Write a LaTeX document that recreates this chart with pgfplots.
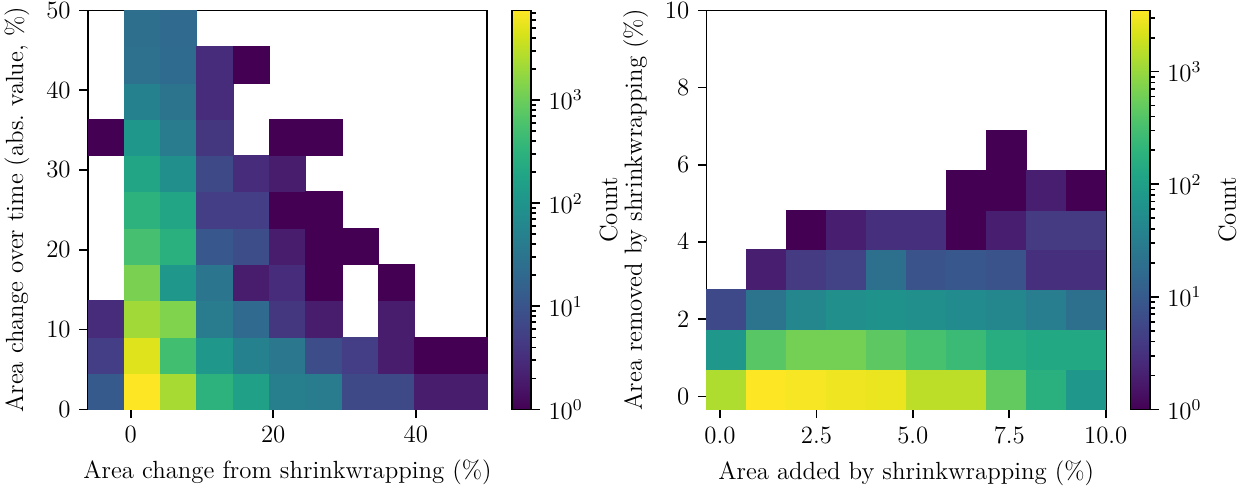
\documentclass[12pt,border=0pt]{standalone}
\usepackage{pgfplots}
\pgfplotsset{compat=1.18}

% one histogram bin = one square mark, sized to the bin width in pt
\pgfdeclareplotmark{binA}{%
  \pgfpathrectangle{\pgfpoint{-8.764pt}{-8.764pt}}{\pgfpoint{17.527pt}{17.527pt}}%
  \pgfusepathqfillstroke}
\pgfdeclareplotmark{binB}{%
  \pgfpathrectangle{\pgfpoint{-9.64pt}{-9.64pt}}{\pgfpoint{19.28pt}{19.28pt}}%
  \pgfusepathqfillstroke}

\pgfplotsset{
  hist2d/.style={
    scale only axis, width=192.8pt, height=192.8pt,
    axis on top, tick align=outside, xtick pos=left, ytick pos=left,
    major tick length=4.2pt, minor tick length=2.4pt,
    axis line style={line width=0.8pt},
    every tick/.append style={line width=0.8pt, black},
    colormap/viridis, colorbar,
    point meta min=0,
    colorbar style={
      at={(parent axis.north east)}, anchor=north west, xshift=3.5pt,
      scale only axis, width=9.3pt, height=192.8pt,
      axis line style={line width=0.8pt},
      tick align=outside, ytick pos=right, yticklabel pos=right,
      major tick length=4.2pt, minor tick length=2.4pt,
      ytick={0,1,2,3},
      yticklabels={$10^{0}$,$10^{1}$,$10^{2}$,$10^{3}$},
      minor ytick={0.301,0.477,0.602,0.699,0.778,0.845,0.903,0.954,
                   1.301,1.477,1.602,1.699,1.778,1.845,1.903,1.954,
                   2.301,2.477,2.602,2.699,2.778,2.845,2.903,2.954,
                   3.301,3.477,3.602,3.699,3.778,3.845},
      ylabel={Count},
    },
  },
  bins/.style={
    scatter, only marks, mark=#1,
    mark options={line width=0.3pt},
    scatter/use mapped color={draw=mapped color, fill=mapped color},
    point meta={log10(\thisrow{c})},
  },
}

% bin centres and counts (empty bins left out)
\pgfplotstableread{
x y c
-3.455 2.273 12
-3.455 6.818 5
-3.455 11.364 3
-3.455 34.091 1
1.636 2.273 7400
1.636 6.818 4770
1.636 11.364 2130
1.636 15.909 1250
1.636 20.455 535
1.636 25.000 315
1.636 29.545 190
1.636 34.091 112
1.636 38.636 50
1.636 43.182 27
1.636 47.727 25
6.727 2.273 2330
6.727 6.818 500
6.727 11.364 1350
6.727 15.909 112
6.727 20.455 275
6.727 25.000 190
6.727 29.545 87
6.727 34.091 39
6.727 38.636 30
6.727 43.182 22
6.727 47.727 21
11.818 2.273 315
11.818 6.818 112
11.818 11.364 39
11.818 15.909 32
11.818 20.455 11
11.818 25.000 5
11.818 29.545 7
11.818 34.091 4
11.818 38.636 3
11.818 43.182 3
16.909 2.273 160
16.909 6.818 50
16.909 11.364 21
16.909 15.909 2
16.909 20.455 8
16.909 25.000 5
16.909 29.545 3
16.909 43.182 1
22.000 2.273 45
22.000 6.818 34
22.000 11.364 4
22.000 15.909 3
22.000 20.455 2
22.000 25.000 1
22.000 29.545 2
22.000 34.091 1
27.091 2.273 39
27.091 6.818 8
27.091 11.364 2
27.091 15.909 1
27.091 20.455 1
27.091 25.000 1
27.091 34.091 1
32.182 2.273 7
32.182 6.818 5
32.182 20.455 1
37.273 2.273 7
37.273 6.818 2
37.273 11.364 2
37.273 15.909 1
42.364 2.273 2
42.364 6.818 1
47.455 2.273 2
47.455 6.818 1
}\changes

\pgfplotstableread{
x y c
0.172 0.180 1320
0.172 1.213 76
0.172 2.247 6
1.207 0.180 3500
1.207 1.213 420
1.207 2.247 22
1.207 3.281 2
2.241 0.180 3230
2.241 1.213 630
2.241 2.247 43
2.241 3.281 4
2.241 4.315 1
3.276 0.180 2970
3.276 1.213 630
3.276 2.247 59
3.276 3.281 5
3.276 4.315 2
4.310 0.180 2740
4.310 1.213 455
4.310 2.247 64
4.310 3.281 20
4.310 4.315 3
5.345 0.180 1550
5.345 1.213 330
5.345 2.247 59
5.345 3.281 8
5.345 4.315 3
6.379 0.180 1550
6.379 1.213 257
6.379 2.247 50
6.379 3.281 9
6.379 4.315 1
6.379 5.348 1
7.414 0.180 490
7.414 1.213 158
7.414 2.247 43
7.414 3.281 8
7.414 4.315 2
7.414 5.348 1
7.414 6.382 1
8.448 0.180 170
8.448 1.213 134
8.448 2.247 31
8.448 3.281 3
8.448 4.315 4
8.448 5.348 2
9.483 0.180 76
9.483 1.213 134
9.483 2.247 20
9.483 3.281 3
9.483 4.315 4
9.483 5.348 1
}\addrem

\begin{document}
\begin{tikzpicture}
\begin{axis}[
    hist2d,
    xmin=-6, xmax=50, ymin=0, ymax=50,
    xtick={0,20,40}, ytick={0,10,20,30,40,50},
    point meta max=3.87,
    xlabel={Area change from shrinkwrapping (\%)},
    ylabel={Area change over time (abs.\ value, \%)},
]
\addplot[bins=binA] table {\changes};
\end{axis}

\begin{axis}[
    hist2d,
    at={(298.9pt,0pt)},
    xmin=-0.345, xmax=10, ymin=-0.337, ymax=10,
    xtick={0,2.5,5,7.5,10}, xticklabels={0.0,2.5,5.0,7.5,10.0},
    ytick={0,2,4,6,8,10},
    point meta max=3.544,
    xlabel={Area added by shrinkwrapping (\%)},
    ylabel={Area removed by shrinkwrapping (\%)},
]
\addplot[bins=binB] table {\addrem};
\end{axis}

\pgfresetboundingbox
\path[use as bounding box] (-42.5pt,-38.4pt) rectangle (558.5pt,197.8pt);
\end{tikzpicture}
\end{document}
